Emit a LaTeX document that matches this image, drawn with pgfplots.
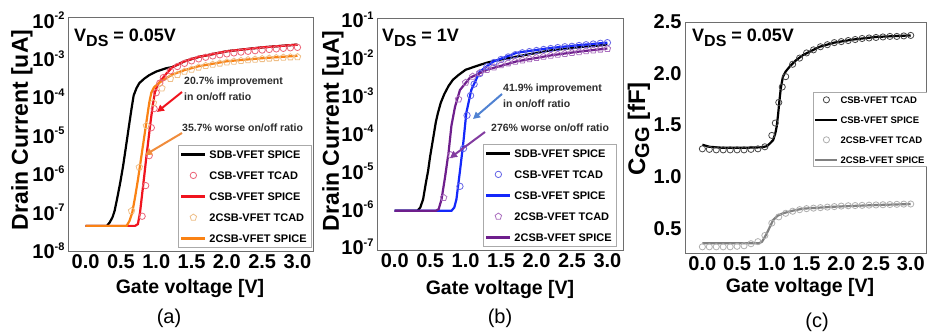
\documentclass[border=0pt]{standalone}
\usepackage{pgfplots}
\pgfplotsset{compat=1.18}
\usepackage{fontspec}
\setmainfont{Liberation Sans}
\usetikzlibrary{arrows.meta}
\newcommand{\fs}[1]{\fontsize{#1}{#1}\selectfont}
\newcommand{\sups}[1]{\raisebox{0.8ex}{\fs{11}#1}}
\definecolor{frame}{RGB}{110,110,110}
\definecolor{leg}{RGB}{170,170,170}
\definecolor{redS}{RGB}{240,20,30}
\definecolor{redT}{RGB}{235,100,120}
\definecolor{oraS}{RGB}{250,130,20}
\definecolor{oraT}{RGB}{238,190,135}
\definecolor{bluS}{RGB}{20,40,250}
\definecolor{bluT}{RGB}{100,100,230}
\definecolor{purS}{RGB}{110,30,140}
\definecolor{purT}{RGB}{170,110,190}
\definecolor{grS}{RGB}{128,128,128}
\definecolor{grT}{RGB}{175,175,175}
\definecolor{bkT}{RGB}{70,70,70}
\definecolor{txt}{RGB}{45,45,45}
\definecolor{arrO}{RGB}{240,140,60}
\definecolor{arrB}{RGB}{80,130,210}
\definecolor{arrP}{RGB}{130,60,160}
\pgfplotsset{
  myax/.style={
    scale only axis, anchor=south west,
    axis line style={draw=frame, line width=0.9pt},
    tick style={draw=none}, major tick length=0pt, minor tick length=0pt,
    xmin=-0.25, xmax=3.22,
    xtick={0,0.5,1,1.5,2,2.5,3},
    xticklabels={0.0,0.5,1.0,1.5,2.0,2.5,3.0},
    tick label style={font=\bfseries\fs{20}},
    /pgf/number format/assume math mode=true,
    legend cell align=left,
    legend image code/.code={\draw[mark repeat=2,mark phase=2,##1] plot coordinates {(0pt,0pt) (12pt,0pt) (24pt,0pt)};},
  },
  spice/.style={no marks, line width=2.2pt},
  tcad/.style={only marks, mark=o, mark size=3.2pt, mark options={line width=0.8pt}},
  tcadp/.style={only marks, mark=pentagon, mark size=3.4pt, mark options={line width=0.8pt}},
  biglegend/.style={legend style={at={(1,0)}, anchor=south east, draw=leg, line width=0.7pt, fill=white,
      font=\bfseries\fs{11}, inner sep=2pt, row sep=6.5pt,
      nodes={inner sep=3pt, text height=8pt, text depth=0.5pt}}},
}
\begin{document}
\begin{tikzpicture}[x=1pt,y=1pt]
\path[use as bounding box] (0,0) rectangle (927,335);

% ---------------- (a)
\begin{axis}[myax, biglegend, at={(68pt,84pt)}, width=245pt, height=234pt,
  ymode=log, ymin=1e-8, ymax=1.2e-2,
  ytick={1e-8,1e-7,1e-6,1e-5,1e-4,1e-3,1e-2},
  yticklabels={10\sups{-8},10\sups{-7},10\sups{-6},10\sups{-5},10\sups{-4},10\sups{-3},10\sups{-2}},
  legend style={xshift=-1pt, yshift=3pt}]
\addplot[spice, black] coordinates {(0,4.5e-8) (0.30,4.5e-8) (0.34,5.5e-8) (0.38,7.5e-8) (0.41,1.1e-7) (0.45,2.5e-7) (0.49,6e-7) (0.53,1.6e-6) (0.57,5e-6) (0.61,1.6e-5) (0.65,5e-5) (0.68,1.1e-4) (0.72,1.7e-4) (0.76,2.3e-4) (0.83,3e-4) (0.9,3.7e-4) (1.0,4.6e-4) (1.14,5.6e-4) (1.23,6e-4) (1.4,8.5e-4) (1.6,1.1e-3) (2.0,1.55e-3) (2.5,1.95e-3) (3.0,2.3e-3)};
\addlegendentry{SDB-VFET SPICE}
\addplot[tcad, redT] coordinates {(0.80,8e-8) (0.85,5e-7) (0.90,3e-6) (0.93,1.6e-5) (0.97,5e-5) (1.00,1.3e-4) (1.05,2.3e-4) (1.10,3.2e-4) (1.2,4.8e-4) (1.3,6.2e-4) (1.4,7.5e-4) (1.5,8.7e-4) (1.6,9.8e-4) (1.7,1.08e-3) (1.8,1.17e-3) (1.9,1.25e-3) (2.0,1.32e-3) (2.1,1.4e-3) (2.2,1.47e-3) (2.3,1.54e-3) (2.4,1.6e-3) (2.5,1.66e-3) (2.6,1.72e-3) (2.7,1.78e-3) (2.8,1.84e-3) (2.9,1.9e-3) (3.0,1.95e-3)};
\addlegendentry{CSB-VFET TCAD}
\addplot[spice, redS] coordinates {(0,4.5e-8) (0.70,4.5e-8) (0.74,5e-8) (0.77,1e-7) (0.80,3e-7) (0.83,9e-7) (0.86,2.8e-6) (0.89,8e-6) (0.92,2.3e-5) (0.95,6e-5) (0.98,1.3e-4) (1.02,2.1e-4) (1.08,2.9e-4) (1.15,4.2e-4) (1.23,6e-4) (1.4,8.5e-4) (1.6,1.1e-3) (2.0,1.55e-3) (2.5,1.95e-3) (3.0,2.3e-3)};
\addlegendentry{CSB-VFET SPICE}
\addplot[tcadp, oraT] coordinates {(0.65,1.1e-7) (0.76,1.5e-6) (0.86,1.8e-5) (0.96,7e-5) (1.08,1.7e-4) (1.2,3e-4) (1.3,3.8e-4) (1.4,4.6e-4) (1.5,5.2e-4) (1.6,5.9e-4) (1.7,6.5e-4) (1.8,7e-4) (1.9,7.5e-4) (2.0,8e-4) (2.1,8.4e-4) (2.2,8.8e-4) (2.3,9.2e-4) (2.4,9.5e-4) (2.5,9.8e-4) (2.6,1.01e-3) (2.7,1.04e-3) (2.8,1.07e-3) (2.9,1.09e-3) (3.0,1.1e-3)};
\addlegendentry{2CSB-VFET TCAD}
\addplot[spice, oraS] coordinates {(0,4.5e-8) (0.58,4.5e-8) (0.62,6e-8) (0.66,1e-7) (0.70,2.5e-7) (0.74,7e-7) (0.78,2.2e-6) (0.82,7e-6) (0.86,2.2e-5) (0.90,7e-5) (0.93,1.3e-4) (0.97,1.8e-4) (1.05,2.4e-4) (1.22,3.8e-4) (1.4,5e-4) (1.6,6.3e-4) (2.0,8.5e-4) (2.5,1.02e-3) (3.0,1.18e-3)};
\addlegendentry{2CSB-VFET SPICE}
\end{axis}

% ---------------- (b)
\begin{axis}[myax, biglegend, at={(377pt,85pt)}, width=246pt, height=232pt,
  ymode=log, ymin=8.3e-8, ymax=0.112,
  ytick={1e-7,1e-6,1e-5,1e-4,1e-3,1e-2,1e-1},
  yticklabels={10\sups{-7},10\sups{-6},10\sups{-5},10\sups{-4},10\sups{-3},10\sups{-2},10\sups{-1}},
  legend style={xshift=-6pt, yshift=3pt}]
\addplot[spice, black] coordinates {(0,9e-7) (0.32,9e-7) (0.36,1.1e-6) (0.40,1.8e-6) (0.44,5e-6) (0.47,1e-5) (0.50,2.5e-5) (0.54,7e-5) (0.58,2e-4) (0.61,3.5e-4) (0.65,6.5e-4) (0.70,1.1e-3) (0.76,1.8e-3) (0.82,2.6e-3) (0.9,3.5e-3) (1.0,4.8e-3) (1.15,6e-3) (1.3,7.4e-3) (1.5,9e-3) (1.72,1.07e-2) (1.96,1.3e-2) (2.19,1.55e-2) (2.6,1.9e-2) (3.0,2.2e-2)};
\addlegendentry{SDB-VFET SPICE}
\addplot[tcad, bluT] coordinates {(0.92,4e-6) (0.97,4e-5) (1.02,3e-4) (1.07,1e-3) (1.12,2e-3) (1.2,3.8e-3) (1.3,5.8e-3) (1.4,7.5e-3) (1.5,9e-3) (1.6,1.05e-2) (1.7,1.2e-2) (1.8,1.35e-2) (1.9,1.45e-2) (2.0,1.55e-2) (2.1,1.65e-2) (2.2,1.75e-2) (2.3,1.85e-2) (2.4,1.95e-2) (2.5,2.0e-2) (2.6,2.1e-2) (2.7,2.2e-2) (2.8,2.3e-2) (2.9,2.4e-2) (3.0,2.5e-2)};
\addlegendentry{CSB-VFET TCAD}
\addplot[spice, bluS] coordinates {(0,9e-7) (0.80,9e-7) (0.84,1.1e-6) (0.87,1.8e-6) (0.92,1e-5) (0.97,6.3e-5) (1.01,3.5e-4) (1.08,1.4e-3) (1.2,4.3e-3) (1.39,7.9e-3) (1.72,1.35e-2) (2.19,1.8e-2) (2.6,2.15e-2) (3.0,2.5e-2)};
\addlegendentry{CSB-VFET SPICE}
\addplot[tcadp, purT] coordinates {(0.69,2e-6) (0.79,2.7e-5) (0.9,8e-4) (1.0,2.2e-3) (1.1,3.2e-3) (1.2,4e-3) (1.3,4.8e-3) (1.4,5.6e-3) (1.5,6.4e-3) (1.6,7.2e-3) (1.7,7.9e-3) (1.8,8.6e-3) (1.9,9.3e-3) (2.0,1e-2) (2.1,1.07e-2) (2.2,1.14e-2) (2.3,1.21e-2) (2.4,1.28e-2) (2.5,1.35e-2) (2.6,1.42e-2) (2.7,1.5e-2) (2.8,1.58e-2) (2.9,1.66e-2) (3.0,1.72e-2)};
\addlegendentry{2CSB-VFET TCAD}
\addplot[spice, purS] coordinates {(0,9e-7) (0.58,9e-7) (0.62,1e-6) (0.66,1.8e-6) (0.71,7e-6) (0.76,3.2e-5) (0.80,1.6e-4) (0.85,5e-4) (0.92,1.4e-3) (1.06,2.95e-3) (1.3,4.8e-3) (1.72,8e-3) (2.2,1.15e-2) (2.6,1.45e-2) (3.0,1.75e-2)};
\addlegendentry{2CSB-VFET SPICE}
\end{axis}

% ---------------- (c)
\begin{axis}[myax, at={(685pt,82pt)}, width=241pt, height=231pt,
  ymin=0.26, ymax=2.5,
  ytick={0.5,1.0,1.5,2.0,2.5},
  yticklabels={0.5,1.0,1.5,2.0,2.5},
  legend image code/.code={\draw[mark repeat=2,mark phase=2,#1] plot coordinates {(0pt,0pt) (11pt,0pt) (22pt,0pt)};},
  legend style={at={(0.531,0.695)}, anchor=north west, draw=leg, line width=0.7pt, fill=white,
      font=\bfseries\fs{9.5}, inner sep=1pt, row sep=8pt,
      nodes={inner sep=2pt, text height=7.5pt, text depth=0.5pt}}]
\addplot[tcad, bkT, mark size=3.1pt] coordinates {(0,1.27) (0.1,1.265) (0.2,1.26) (0.3,1.26) (0.4,1.26) (0.5,1.26) (0.6,1.26) (0.7,1.265) (0.8,1.27) (0.9,1.29) (1.0,1.40) (1.05,1.52) (1.1,1.72) (1.15,1.87) (1.2,1.97) (1.3,2.09) (1.4,2.15) (1.5,2.20) (1.6,2.23) (1.7,2.26) (1.8,2.28) (1.9,2.30) (2.0,2.31) (2.1,2.32) (2.2,2.33) (2.3,2.34) (2.4,2.345) (2.5,2.35) (2.6,2.355) (2.7,2.36) (2.8,2.36) (2.9,2.365) (3.0,2.37)};
\addlegendentry{CSB-VFET TCAD}
\addplot[spice, black] coordinates {(0,1.31) (0.1,1.29) (0.3,1.28) (0.6,1.28) (0.85,1.285) (0.925,1.295) (0.97,1.32) (1.02,1.356) (1.05,1.42) (1.07,1.485) (1.09,1.6) (1.11,1.74) (1.13,1.86) (1.16,1.97) (1.20,2.02) (1.26,2.07) (1.35,2.13) (1.45,2.18) (1.69,2.26) (1.9,2.30) (2.17,2.33) (2.5,2.355) (3.0,2.37)};
\addlegendentry{CSB-VFET SPICE}
\addplot[tcad, grT, mark size=3.1pt] coordinates {(0,0.32) (0.1,0.32) (0.2,0.32) (0.3,0.32) (0.4,0.32) (0.5,0.325) (0.6,0.33) (0.7,0.35) (0.8,0.37) (0.9,0.43) (1.0,0.55) (1.1,0.61) (1.2,0.645) (1.3,0.665) (1.4,0.68) (1.5,0.69) (1.6,0.695) (1.7,0.70) (1.8,0.705) (1.9,0.71) (2.0,0.715) (2.1,0.718) (2.2,0.72) (2.3,0.722) (2.4,0.724) (2.5,0.726) (2.6,0.728) (2.7,0.73) (2.8,0.732) (2.9,0.734) (3.0,0.735)};
\addlegendentry{2CSB-VFET TCAD}
\addplot[spice, grS] coordinates {(0,0.355) (0.82,0.355) (0.86,0.37) (0.92,0.44) (0.97,0.51) (1.02,0.58) (1.08,0.62) (1.16,0.645) (1.3,0.67) (1.45,0.69) (1.93,0.71) (2.5,0.725) (3.0,0.735)};
\addlegendentry{2CSB-VFET SPICE}
\end{axis}

% ---------------- annotations
\draw[redS, line width=2pt, -{Triangle[length=7pt,width=7pt]}] (182,243) -- (157,223);
\draw[arrO, line width=2pt, -{Triangle[length=7pt,width=7pt]}] (182,202) -- (145,180);
\draw[arrB, line width=2pt, -{Triangle[length=7pt,width=7pt]}] (502,241) -- (473,216);
\draw[arrP, line width=2pt, -{Triangle[length=7pt,width=7pt]}] (485,203) -- (450,177);
\begin{scope}[every node/.style={anchor=west, inner sep=0pt, text=txt, font=\bfseries\fs{10.5}}]
\node at (184,253) {20.7\% improvement};
\node at (184,238) {in on/off ratio};
\node at (182,207) {35.7\% worse on/off ratio};
\node at (503,246) {41.9\% improvement};
\node at (503,231) {in on/off ratio};
\node at (491,207) {276\% worse on/off ratio};
\end{scope}
\begin{scope}[every node/.style={anchor=base west, inner sep=0pt, font=\bfseries\fs{18}}]
\node at (74,293) {V\raisebox{-5pt}{\fs{16}DS} = 0.05V};
\node at (382,293) {V\raisebox{-5pt}{\fs{16}DS} = 1V};
\node at (692,293) {V\raisebox{-5pt}{\fs{16}DS} = 0.05V};
\end{scope}
\node[rotate=90, font=\bfseries\fs{23}] at (22,205) {Drain Current [uA]};
\node[rotate=90, font=\bfseries\fs{23}] at (333,204) {Drain Current [uA]};
\node[rotate=90, font=\bfseries\fs{24}] at (639,206) {C\raisebox{-4pt}{\fs{20}GG} [fF]};
\node[font=\bfseries\fs{19.5}] at (190,46) {Gate voltage [V]};
\node[font=\bfseries\fs{19.5}] at (500,45) {Gate voltage [V]};
\node[font=\bfseries\fs{19.5}] at (800,47) {Gate voltage [V]};
\node[font=\fs{20}] at (169,17) {(a)};
\node[font=\fs{20}] at (500,17) {(b)};
\node[font=\fs{20}] at (817,13) {(c)};
\end{tikzpicture}
\end{document}
